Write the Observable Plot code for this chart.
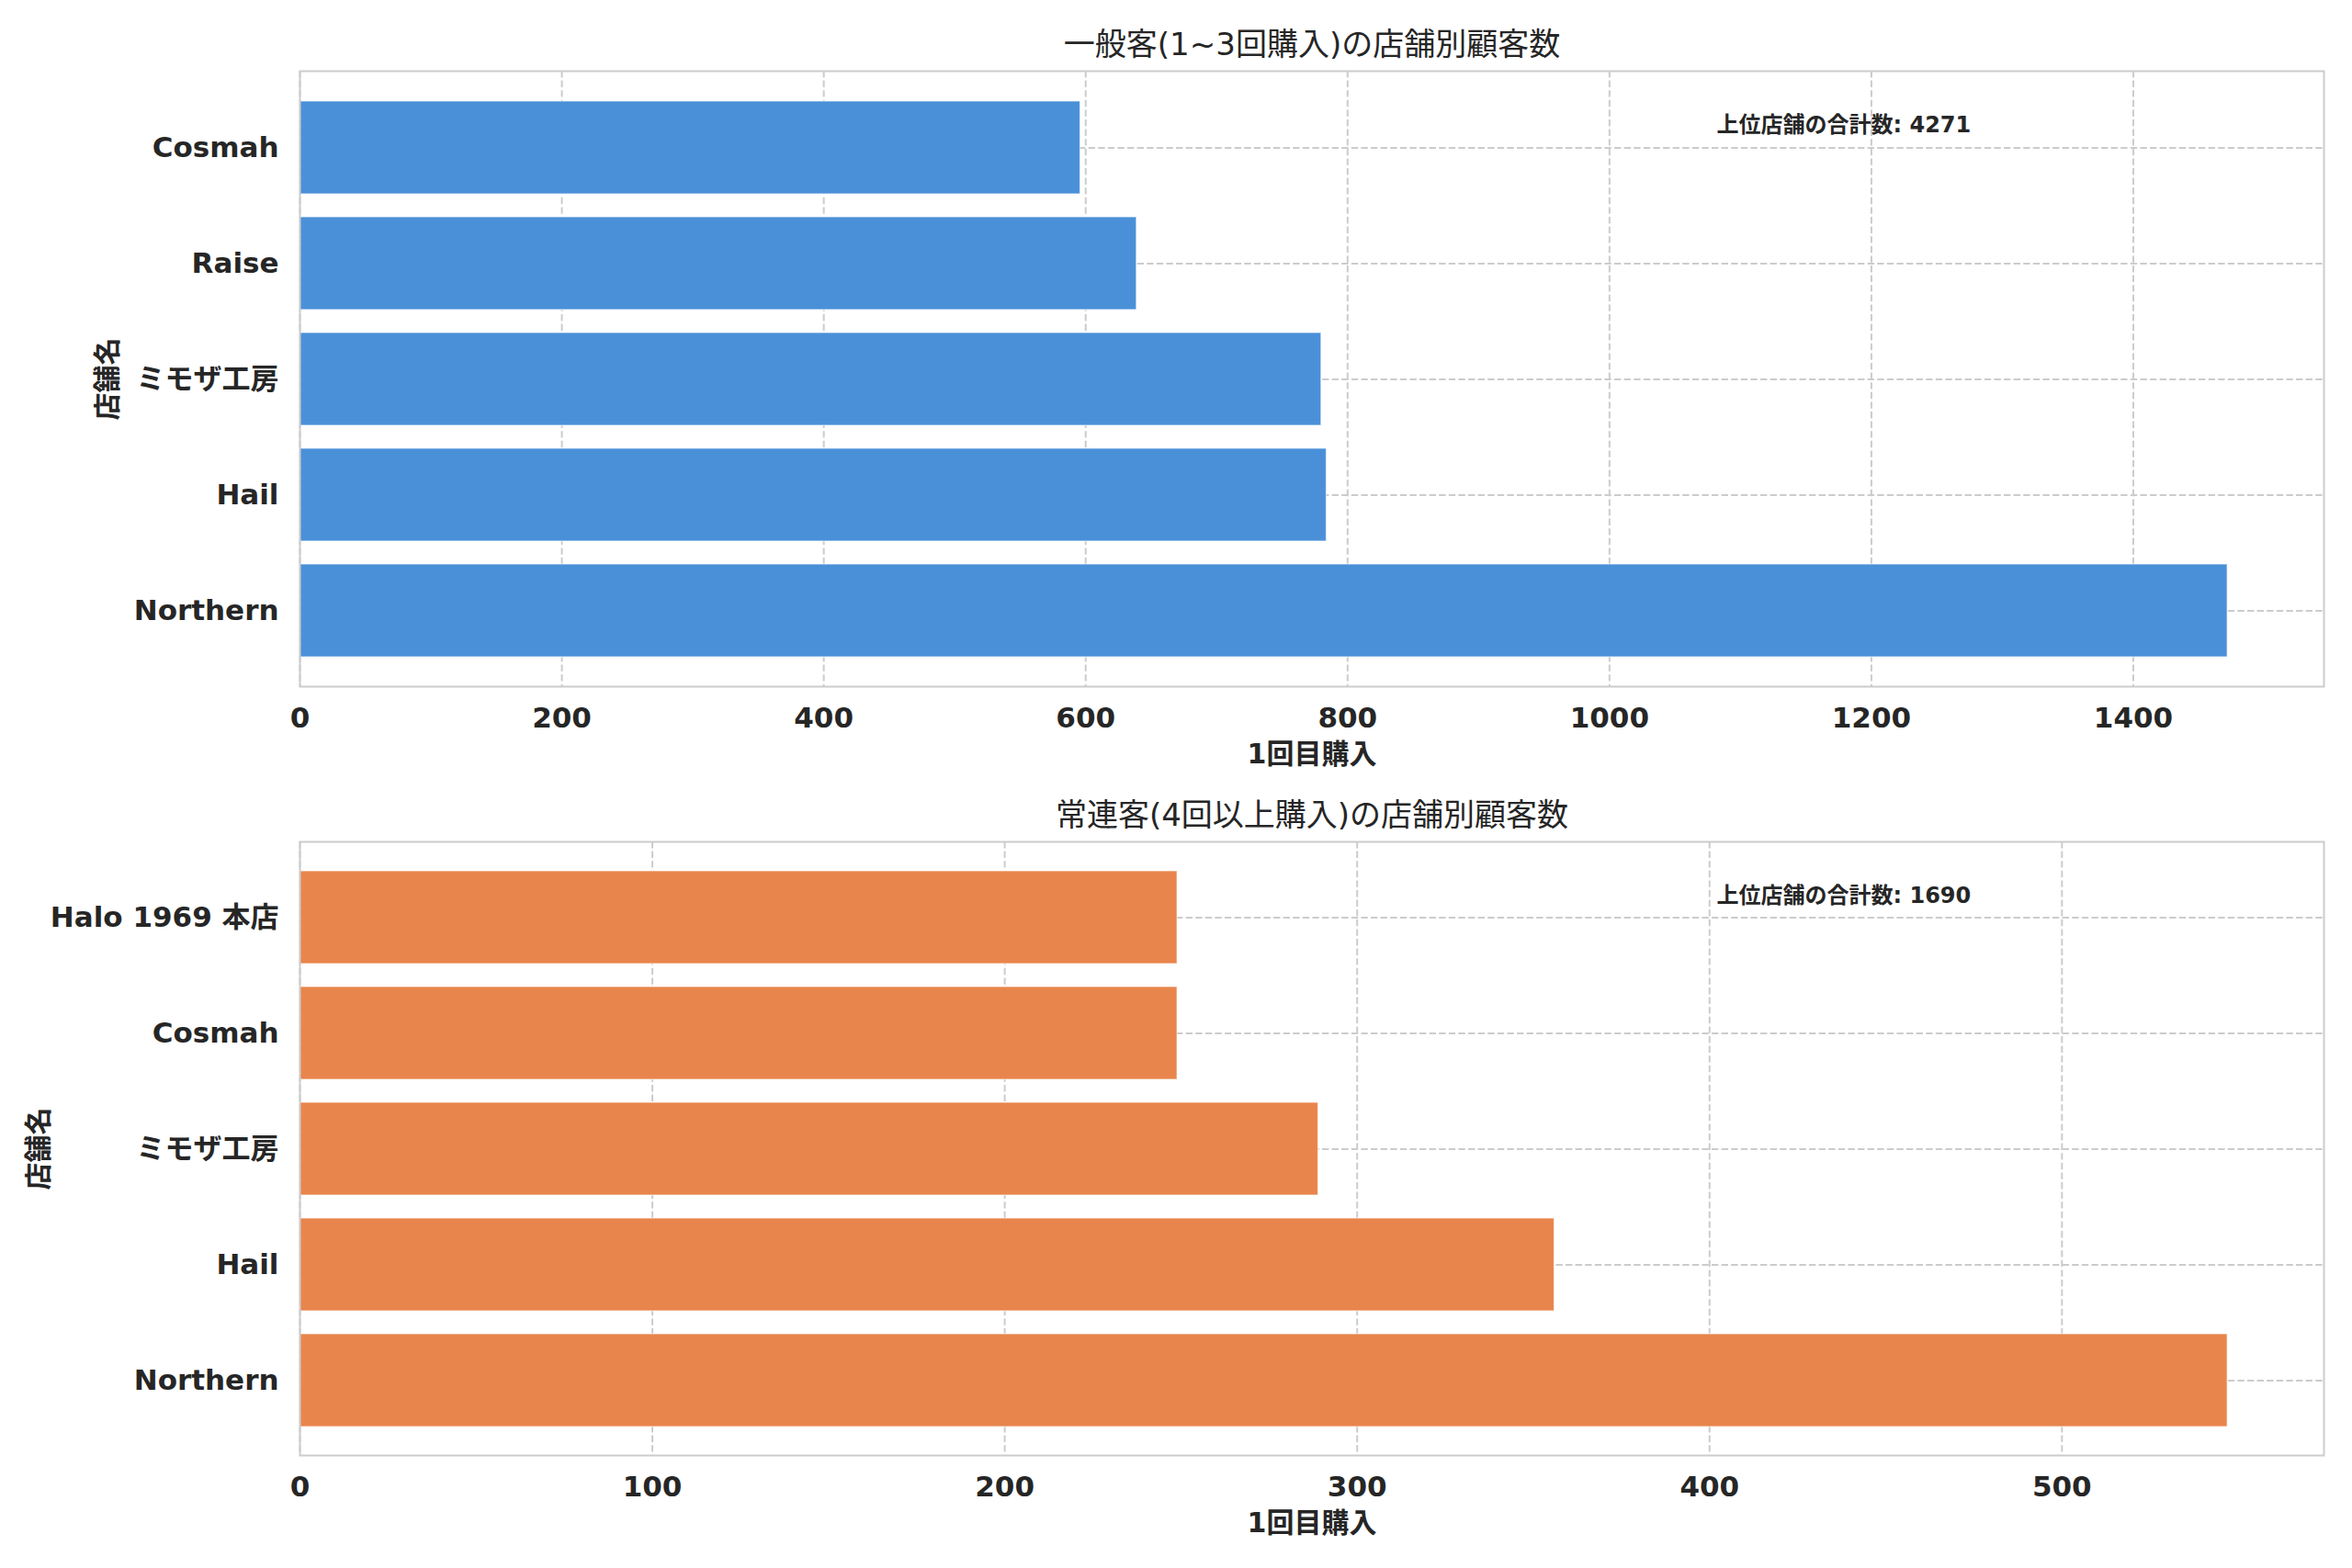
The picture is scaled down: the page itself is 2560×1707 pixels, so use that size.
<!DOCTYPE html>
<html>
<head>
<meta charset="utf-8">
<script src="https://cdn.jsdelivr.net/npm/d3@7"></script>
<script src="https://cdn.jsdelivr.net/npm/@observablehq/plot@0.6"></script>
<style>
  html, body { margin: 0; padding: 0; background: #ffffff; }
  #chart svg { display: block; }
</style>
</head>
<body>
<div id="chart"></div>
<script>
// ---- Data (top panel: 1~3 purchases) ----
const lightStores = ["Cosmah", "Raise", "ミモザ工房", "Hail", "Northern"];
const lightCounts = [596, 639, 780, 784, 1472];
const lightTicks = [0, 200, 400, 600, 800, 1000, 1200, 1400];
const lightTitle = "一般客(1~3回購入)の店舗別顧客数";
const lightTotal = 4271;

// ---- Data (bottom panel: 4+ purchases) ----
const loyalStores = ["Halo 1969 本店", "Cosmah", "ミモザ工房", "Hail", "Northern"];
const loyalCounts = [249, 249, 289, 356, 547];
const loyalTicks = [0, 100, 200, 300, 400, 500];
const loyalTitle = "常連客(4回以上購入)の店舗別顧客数";
const loyalTotal = 1690;

// ---- Labels ----
const xLabel = "1回目購入";
const yLabel = "店舗名";
const totalLabel = "上位店舗の合計数";

const TEXT = "#262626";
const GRID = "#cccccc";
const FONT = "'DejaVu Sans', 'Noto Sans CJK JP', sans-serif";

function panel({stores, counts, ticks, title, total, color, height, marginTop, marginBottom, yLabelDx}) {
  const data = stores.map((s, i) => ({store: s, count: counts[i]}));
  const xmax = d3.max(counts) * 1.05;
  return Plot.plot({
    width: 2560,
    height,
    marginLeft: 326,
    marginRight: 31,
    marginTop,
    marginBottom,
    style: {fontFamily: FONT, color: TEXT, background: "#ffffff", overflow: "visible"},
    x: {domain: [0, xmax], label: null},
    y: {domain: stores, paddingInner: 0.2, paddingOuter: 0.24, label: null},
    marks: [
      Plot.gridX(ticks, {stroke: GRID, strokeOpacity: 1, strokeWidth: 2, strokeDasharray: "7.4,3.2"}),
      Plot.gridY({stroke: GRID, strokeOpacity: 1, strokeWidth: 2, strokeDasharray: "7.4,3.2"}),
      Plot.barX(data, {x: "count", y: "store", fill: color, stroke: "#ffffff", strokeWidth: 1.2, strokeOpacity: 0.6}),
      Plot.frame({stroke: GRID, strokeWidth: 2}),
      Plot.axisX(ticks, {tickSize: 0, tickPadding: 22, fontSize: 31, fontWeight: "bold", fill: TEXT, label: null, tickFormat: d => String(d)}),
      Plot.axisY({tickSize: 0, tickPadding: 23, fontSize: 31, fontWeight: "bold", fill: TEXT, label: null}),
      Plot.text([title], {frameAnchor: "top", dy: -28, lineAnchor: "middle", fontSize: 34, fill: TEXT, text: d => d}),
      Plot.text([`${totalLabel}: ${total}`], {frameAnchor: "top-left", dx: 1542, dy: 59, textAnchor: "start", lineAnchor: "middle", fontSize: 24, fontWeight: "bold", fill: TEXT, text: d => d}),
      Plot.text([xLabel], {frameAnchor: "bottom", dy: 74, lineAnchor: "middle", fontSize: 30, fontWeight: "bold", fill: TEXT, text: d => d}),
      Plot.text([yLabel], {frameAnchor: "left", dx: yLabelDx, rotate: -90, lineAnchor: "middle", textAnchor: "middle", fontSize: 30, fontWeight: "bold", fill: TEXT, text: d => d})
    ]
  });
}

const chart = document.getElementById("chart");
chart.append(panel({
  stores: lightStores, counts: lightCounts, ticks: lightTicks, title: lightTitle, total: lightTotal,
  color: "#4a90d9", height: 840, marginTop: 77, marginBottom: 93, yLabelDx: -209
}));
chart.append(panel({
  stores: loyalStores, counts: loyalCounts, ticks: loyalTicks, title: loyalTitle, total: loyalTotal,
  color: "#e8854c", height: 867, marginTop: 76, marginBottom: 123, yLabelDx: -284
}));
</script>
</body>
</html>
